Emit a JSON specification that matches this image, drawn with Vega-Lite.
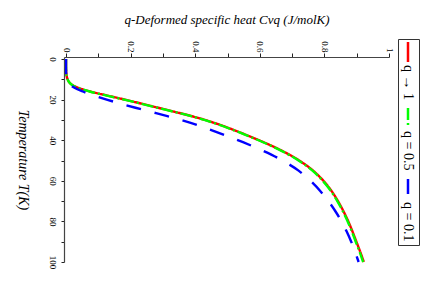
{
  "$schema": "https://vega.github.io/schema/vega-lite/v6.json",
  "width": 325,
  "height": 205,
  "autosize": "none",
  "padding": {"left": 64, "top": 57, "right": 47, "bottom": 27},
  "background": "white",
  "datasets": {
    "curves": [
      {"q": "q → 1", "T": 0, "Cv": 0}, {"q": "q → 1", "T": 4, "Cv": 0}, {"q": "q → 1", "T": 7, "Cv": 0.001},
      {"q": "q → 1", "T": 9, "Cv": 0.003}, {"q": "q → 1", "T": 10, "Cv": 0.005}, {"q": "q → 1", "T": 11, "Cv": 0.008},
      {"q": "q → 1", "T": 12, "Cv": 0.013}, {"q": "q → 1", "T": 13, "Cv": 0.022}, {"q": "q → 1", "T": 14, "Cv": 0.035},
      {"q": "q → 1", "T": 15, "Cv": 0.053}, {"q": "q → 1", "T": 16, "Cv": 0.075}, {"q": "q → 1", "T": 18, "Cv": 0.128},
      {"q": "q → 1", "T": 20, "Cv": 0.182}, {"q": "q → 1", "T": 22, "Cv": 0.234}, {"q": "q → 1", "T": 24, "Cv": 0.285},
      {"q": "q → 1", "T": 26, "Cv": 0.336}, {"q": "q → 1", "T": 28, "Cv": 0.386}, {"q": "q → 1", "T": 30, "Cv": 0.430},
      {"q": "q → 1", "T": 32, "Cv": 0.469}, {"q": "q → 1", "T": 35, "Cv": 0.520}, {"q": "q → 1", "T": 38, "Cv": 0.567},
      {"q": "q → 1", "T": 41, "Cv": 0.612}, {"q": "q → 1", "T": 45, "Cv": 0.666}, {"q": "q → 1", "T": 50, "Cv": 0.722},
      {"q": "q → 1", "T": 55, "Cv": 0.765}, {"q": "q → 1", "T": 60, "Cv": 0.797}, {"q": "q → 1", "T": 65, "Cv": 0.822},
      {"q": "q → 1", "T": 70, "Cv": 0.842}, {"q": "q → 1", "T": 75, "Cv": 0.859}, {"q": "q → 1", "T": 80, "Cv": 0.874},
      {"q": "q → 1", "T": 85, "Cv": 0.887}, {"q": "q → 1", "T": 90, "Cv": 0.899}, {"q": "q → 1", "T": 95, "Cv": 0.911},
      {"q": "q → 1", "T": 100, "Cv": 0.922},
      {"q": "q = 0.5", "T": 0, "Cv": 0}, {"q": "q = 0.5", "T": 4, "Cv": 0}, {"q": "q = 0.5", "T": 7, "Cv": 0.001},
      {"q": "q = 0.5", "T": 9, "Cv": 0.003}, {"q": "q = 0.5", "T": 10, "Cv": 0.005}, {"q": "q = 0.5", "T": 11, "Cv": 0.008},
      {"q": "q = 0.5", "T": 12, "Cv": 0.013}, {"q": "q = 0.5", "T": 13, "Cv": 0.021}, {"q": "q = 0.5", "T": 14, "Cv": 0.034},
      {"q": "q = 0.5", "T": 15, "Cv": 0.052}, {"q": "q = 0.5", "T": 16, "Cv": 0.073}, {"q": "q = 0.5", "T": 18, "Cv": 0.126},
      {"q": "q = 0.5", "T": 20, "Cv": 0.180}, {"q": "q = 0.5", "T": 22, "Cv": 0.232}, {"q": "q = 0.5", "T": 24, "Cv": 0.283},
      {"q": "q = 0.5", "T": 26, "Cv": 0.334}, {"q": "q = 0.5", "T": 28, "Cv": 0.384}, {"q": "q = 0.5", "T": 30, "Cv": 0.428},
      {"q": "q = 0.5", "T": 32, "Cv": 0.467}, {"q": "q = 0.5", "T": 35, "Cv": 0.518}, {"q": "q = 0.5", "T": 38, "Cv": 0.565},
      {"q": "q = 0.5", "T": 41, "Cv": 0.610}, {"q": "q = 0.5", "T": 45, "Cv": 0.664}, {"q": "q = 0.5", "T": 50, "Cv": 0.720},
      {"q": "q = 0.5", "T": 55, "Cv": 0.763}, {"q": "q = 0.5", "T": 60, "Cv": 0.795}, {"q": "q = 0.5", "T": 65, "Cv": 0.820},
      {"q": "q = 0.5", "T": 70, "Cv": 0.840}, {"q": "q = 0.5", "T": 75, "Cv": 0.857}, {"q": "q = 0.5", "T": 80, "Cv": 0.872},
      {"q": "q = 0.5", "T": 85, "Cv": 0.885}, {"q": "q = 0.5", "T": 90, "Cv": 0.897}, {"q": "q = 0.5", "T": 95, "Cv": 0.909},
      {"q": "q = 0.5", "T": 100, "Cv": 0.920},
      {"q": "q = 0.1", "T": 0, "Cv": 0}, {"q": "q = 0.1", "T": 5, "Cv": 0}, {"q": "q = 0.1", "T": 8, "Cv": 0.001},
      {"q": "q = 0.1", "T": 10, "Cv": 0.003}, {"q": "q = 0.1", "T": 12, "Cv": 0.009}, {"q": "q = 0.1", "T": 14, "Cv": 0.025},
      {"q": "q = 0.1", "T": 16, "Cv": 0.052}, {"q": "q = 0.1", "T": 18, "Cv": 0.087}, {"q": "q = 0.1", "T": 20, "Cv": 0.126},
      {"q": "q = 0.1", "T": 22, "Cv": 0.169}, {"q": "q = 0.1", "T": 24, "Cv": 0.215}, {"q": "q = 0.1", "T": 26, "Cv": 0.263},
      {"q": "q = 0.1", "T": 28, "Cv": 0.311}, {"q": "q = 0.1", "T": 30, "Cv": 0.356}, {"q": "q = 0.1", "T": 32.5, "Cv": 0.406},
      {"q": "q = 0.1", "T": 35, "Cv": 0.450}, {"q": "q = 0.1", "T": 38, "Cv": 0.500}, {"q": "q = 0.1", "T": 41, "Cv": 0.548},
      {"q": "q = 0.1", "T": 45, "Cv": 0.607}, {"q": "q = 0.1", "T": 50, "Cv": 0.670}, {"q": "q = 0.1", "T": 55, "Cv": 0.720},
      {"q": "q = 0.1", "T": 60, "Cv": 0.757}, {"q": "q = 0.1", "T": 65, "Cv": 0.787}, {"q": "q = 0.1", "T": 70, "Cv": 0.812},
      {"q": "q = 0.1", "T": 75, "Cv": 0.834}, {"q": "q = 0.1", "T": 80, "Cv": 0.853}, {"q": "q = 0.1", "T": 85, "Cv": 0.869},
      {"q": "q = 0.1", "T": 90, "Cv": 0.883}, {"q": "q = 0.1", "T": 95, "Cv": 0.895}, {"q": "q = 0.1", "T": 100, "Cv": 0.906}
    ]
  },
  "data": {"name": "curves"},
  "encoding": {
    "x": {
      "field": "Cv", "type": "quantitative",
      "scale": {"domain": [-0.0062, 1], "nice": false, "zero": false},
      "axis": {
        "orient": "top",
        "title": "q-Deformed specific heat Cvq (J/molK)",
        "values": [0, 0.1, 0.2, 0.3, 0.4, 0.5, 0.6, 0.7, 0.8, 0.9, 1],
        "labelExpr": "round(datum.value*10) % 2 == 0 ? format(datum.value, '~g') : ''",
        "labelAngle": 90, "labelAlign": "right", "labelBaseline": "middle",
        "labelPadding": 1, "tickSize": 4,
        "titlePadding": 14, "titleFontSize": 13
      }
    },
    "y": {
      "field": "T", "type": "quantitative",
      "scale": {"domain": [-0.99, 100], "nice": false, "zero": false, "reverse": true},
      "axis": {
        "orient": "left",
        "title": "Temperature T(K)",
        "values": [0, 10, 20, 30, 40, 50, 60, 70, 80, 90, 100],
        "labelExpr": "round(datum.value/10) % 2 == 0 ? format(datum.value, '~g') : ''",
        "labelAngle": 90, "labelAlign": "center", "labelBaseline": "top",
        "labelPadding": 5, "tickSize": 3,
        "titleAngle": 90, "titleBaseline": "top", "titlePadding": 18, "titleFontSize": 14
      }
    },
    "order": {"field": "T", "type": "quantitative"},
    "color": {
      "field": "q", "type": "nominal",
      "scale": {"domain": ["q → 1", "q = 0.5", "q = 0.1"], "range": ["#ff0000", "#00ff00", "#0000ff"]},
      "legend": {
        "title": null, "orient": "none", "legendX": 334, "legendY": -18,
        "direction": "vertical", "columns": 1,
        "strokeColor": "#333333", "fillColor": "white", "padding": 3, "rowPadding": 3,
        "symbolType": "M0,-1L0,1", "symbolSize": 400, "symbolStrokeWidth": 2.5,
        "labelFont": "Liberation Serif", "labelFontSize": 14, "labelColor": "black",
        "encode": {
          "symbols": {"update": {"x": {"value": 7}, "y": {"value": 10}}},
          "labels": {"update": {"x": {"value": 7}, "y": {"value": 23}, "angle": {"value": 90}, "align": {"value": "left"}, "baseline": {"value": "middle"}}}
        }
      }
    },
    "strokeDash": {
      "field": "q", "type": "nominal",
      "scale": {"domain": ["q → 1", "q = 0.5", "q = 0.1"], "range": [[1, 0], [12, 3, 2, 3], [15, 14]]},
      "legend": null
    }
  },
  "layer": [
    {"transform": [{"filter": "datum.q == 'q → 1'"}], "mark": {"type": "line", "strokeWidth": 2.4, "interpolate": "monotone"}},
    {"transform": [{"filter": "datum.q == 'q = 0.5'"}], "mark": {"type": "line", "strokeWidth": 2.4, "interpolate": "monotone"}},
    {"transform": [{"filter": "datum.q == 'q = 0.1'"}], "mark": {"type": "line", "strokeWidth": 2.4, "interpolate": "monotone"}}
  ],
  "config": {
    "view": {"stroke": null},
    "font": "Liberation Serif",
    "axis": {
      "grid": false, "domainColor": "#444444", "domainWidth": 1.2, "tickColor": "#222222", "tickWidth": 1,
      "labelFont": "Liberation Serif", "labelFontSize": 9, "labelColor": "black",
      "titleFont": "Liberation Serif", "titleFontStyle": "italic", "titleFontWeight": "normal", "titleColor": "black"
    }
  }
}
